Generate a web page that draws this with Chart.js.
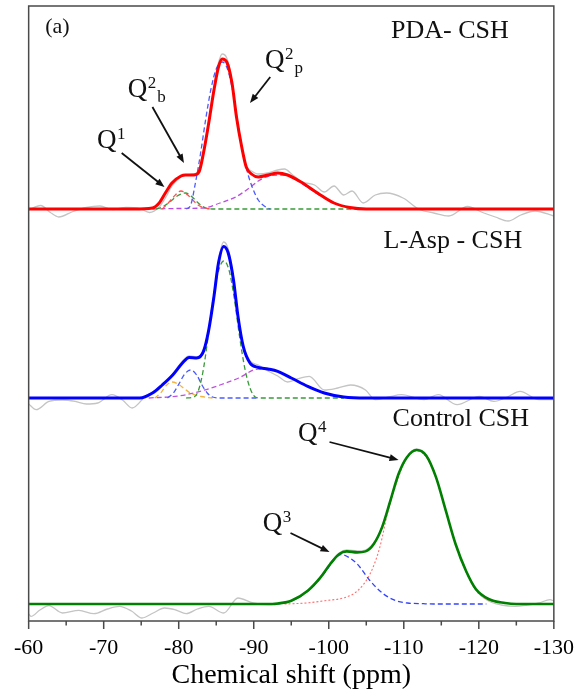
<!DOCTYPE html>
<html>
<head>
<meta charset="utf-8">
<script src="https://cdn.jsdelivr.net/npm/chart.js@4.4.0/dist/chart.umd.min.js"></script>
<style>
  html, body { margin: 0; padding: 0; background: #fff; }
  #wrap { width: 588px; height: 700px; position: relative; }
</style>
</head>
<body>
<div id="wrap"><canvas id="nmr"></canvas></div>
<script>
// x axis: chemical shift (ppm)
const shiftTicks = [-60, -70, -80, -90, -100, -110, -120, -130];
const minorTicks = [-65, -75, -85, -95, -105, -115, -125];

// PDA- CSH : [shift, intensity]
const pdaFit = [[-60,0],[-74,0],[-76.5,1],[-77.4,6],[-78.3,17],[-79.1,26],[-80.3,33],[-80.9,34],[-82.0,34],[-82.7,37],[-83.3,56],[-84.0,86],[-84.7,119],[-85.3,142],[-85.8,150],[-86.4,147],[-87.1,126],[-87.7,92],[-88.4,62],[-89.0,42],[-89.7,35],[-90.6,32],[-91.9,34],[-93.2,36],[-94.5,34],[-96.3,27],[-98.5,16],[-100.7,6],[-102.8,1.5],[-105,0],[-130,0]];
const pdaQ2p = [[-81.0,0],[-81.6,4],[-82.2,25],[-82.9,55],[-83.6,90],[-84.3,120],[-85.0,140],[-85.8,147],[-86.5,140],[-87.2,118],[-87.9,85],[-88.6,55],[-89.3,33],[-89.9,20],[-90.6,9],[-91.4,3],[-92.2,0]];
const pdaQ1 = [[-77.8,0],[-78.5,5],[-79.3,12],[-80.3,18],[-81.2,14],[-82.0,8],[-82.8,3],[-83.8,0.5],[-84.5,0]];
const pdaQ2b = [[-77.0,0],[-77.8,2],[-78.8,7],[-79.8,13],[-80.9,16],[-81.8,12],[-82.6,6],[-83.6,1],[-84.5,0],[-105,0]];
const pdaQ2i = [[-76.5,0],[-80,0.5],[-83.3,1],[-85.5,6],[-87.6,12],[-89.4,21],[-90.6,28],[-92,33],[-93.5,34],[-95,32],[-96.3,26],[-98.5,15],[-100.7,6],[-102.8,1.5],[-105,0]];
const pdaExp = [[-60,-1],[-61.6,3.5],[-62.9,-3.5],[-64.0,-8],[-65.9,-2.5],[-67.7,1.5],[-69.5,3],[-71.2,-0.5],[-73.0,1.5],[-74.8,0.5],[-76.1,-3.5],[-77.4,2],[-78.3,12],[-79.1,23],[-80.3,32],[-80.9,34],[-82.0,35],[-82.7,39],[-83.3,58],[-84.0,88],[-84.7,122],[-85.3,146],[-85.8,155],[-86.4,151],[-87.1,128],[-87.7,92],[-88.4,62],[-89.0,43],[-89.7,38],[-90.6,35],[-91.9,36],[-93.2,39],[-94.1,40],[-95.2,34],[-96.5,27],[-98.1,24],[-99.4,17],[-100.7,23],[-102.0,14],[-103.1,18],[-104.6,6],[-106.2,14],[-107.7,16],[-109.9,11],[-112.1,-0.5],[-114.0,-4],[-116.0,-7],[-118.5,2.5],[-120.5,-3.5],[-122.2,-8],[-123.9,-12],[-125.6,-6],[-127.5,-2],[-130,-7]];

// L-Asp - CSH
const aspFit = [[-60,0],[-74.8,0],[-76.5,5],[-77.8,13],[-79.2,23],[-80.5,35],[-81.4,40.6],[-82.4,40],[-83.3,46.6],[-84.0,68],[-84.7,101.6],[-85.3,135],[-86.0,151.6],[-86.6,145],[-87.3,118],[-87.9,81.6],[-88.6,51.6],[-89.5,35],[-90.6,30.6],[-91.9,29],[-93.2,26.6],[-95.0,20],[-97.2,11.6],[-99.4,5],[-102.0,1],[-105,0],[-130,0]];
const aspQ2p = [[-81.0,0],[-81.8,0.5],[-82.5,5],[-83.2,25],[-83.9,60],[-84.6,100],[-85.3,127],[-86.0,137],[-86.7,128],[-87.4,100],[-88.1,62],[-88.8,30],[-89.5,10],[-90.2,1],[-91,0],[-102,0]];
const aspQ2b = [[-78.5,0],[-79.3,5],[-80.1,15],[-80.8,24],[-81.6,28],[-82.4,23],[-83.1,13],[-83.8,5],[-84.5,1],[-85.5,0],[-90.6,0]];
const aspQ1 = [[-76.8,0],[-77.6,5],[-78.4,13],[-79.1,16],[-79.9,14],[-80.8,9],[-81.8,4],[-83.0,1.5],[-84.5,0]];
const aspQ2i = [[-76,0],[-80,2],[-83,7],[-85.5,13],[-88,20],[-90.6,29],[-91.9,28.5],[-93.2,26.5],[-95,20],[-97.2,11.6],[-99.4,5],[-102,1],[-105,0]];
const aspExp = [[-60,-6],[-61.0,-11.7],[-62.7,-3.4],[-64.5,-2],[-66.2,-3.4],[-67.7,-6],[-69.2,-5],[-71.1,3.3],[-72.5,-2],[-73.8,-10],[-75.8,3.3],[-77,6],[-77.8,12],[-79.2,24],[-80.5,37],[-81.4,42],[-82.4,41],[-83.3,48],[-84.0,70],[-84.7,104],[-85.3,138],[-86.0,156],[-86.6,149],[-87.3,121],[-87.9,83],[-88.6,53],[-89.5,37],[-90.6,33],[-91.9,27],[-93.2,22],[-94.5,16],[-95.8,19],[-97.4,21.6],[-99.4,8],[-101.2,10],[-102.9,13],[-104.9,8],[-106.2,-1.7],[-108,1],[-109.7,3.3],[-112.7,-1.7],[-114.6,3.3],[-117.1,-6.7],[-120.1,1.6],[-122.0,-3.4],[-123.8,1],[-125.5,6.6],[-128.0,-1.7],[-130,-1.7]];

// Control CSH
const ctlFit = [[-60,0],[-92.5,0],[-93.2,0.5],[-95.0,3.3],[-97.2,13.3],[-98.9,26.7],[-100.2,40],[-101.4,50],[-102.4,52.6],[-103.8,51.6],[-104.9,52.6],[-106.0,60],[-107.1,76.6],[-108.2,103],[-109.3,130],[-110.4,146.6],[-111.7,154],[-113.0,148.3],[-114.3,126.6],[-115.6,93.3],[-116.9,60],[-118.3,33],[-119.6,15],[-121.3,5],[-123.5,1],[-125,0],[-130,0]];
const ctlQ3 = [[-93,0],[-95,3],[-97.2,13],[-98.9,26],[-100.2,39],[-101.0,47],[-101.6,49.5],[-102.7,46.5],[-103.8,40],[-105.5,23.3],[-107.3,10],[-109,3.3],[-110.5,1],[-112.6,0.3],[-114,0],[-121,0]];
const ctlQ4 = [[-94.1,0],[-97,1],[-99.5,3.3],[-102.2,6.6],[-103.8,13],[-105.5,30],[-106.8,56.6],[-107.9,93],[-109.3,127],[-110.4,146],[-111.7,153],[-113.0,147],[-114.3,126],[-115.6,93],[-116.9,59],[-118.3,32],[-119.6,14],[-121.3,4],[-123.5,0.5]];
const ctlExp = [[-60,-10],[-60.3,-12.4],[-61.5,-6],[-62.7,-1.7],[-64.5,-9],[-66.7,-6.4],[-68.7,-9.7],[-70.5,-5],[-72.1,-2.4],[-73.7,-7],[-75.1,-14],[-76.6,-9],[-78.1,-4],[-79.6,-6],[-81.0,-9.7],[-82.5,-5],[-84.0,-2.4],[-86.0,-9],[-87.9,6],[-89.9,1],[-91.9,-0.7],[-93.2,0.5],[-95.0,3.3],[-97.2,13.3],[-98.9,27],[-100.2,41],[-101.4,51],[-102.4,54],[-103.8,53],[-104.9,54],[-106.0,61],[-107.1,77],[-108.2,103],[-109.3,130],[-110.4,147],[-111.7,155],[-113.0,149],[-114.3,127],[-115.6,93],[-116.9,60],[-118.3,33],[-119.6,14],[-121.3,3],[-123.0,-1],[-124.9,-2.4],[-126.5,-1],[-128,1],[-129.5,4.3],[-130,3]];

// vertical stacking of the three spectra
const offPda = 395, offAsp = 206, offCtl = 0;

const SERIF = "'Liberation Serif', 'Times New Roman', serif";

function pts(pairs, off) {
    return pairs.map(p => ({ x: p[0], y: p[1] + off }));
}

function curve(pairs, off, color, width, dash, order) {
    return {
        data: pts(pairs, off),
        borderColor: color,
        borderWidth: width,
        borderDash: dash || [],
        pointRadius: 0,
        fill: false,
        cubicInterpolationMode: "monotone",
        order: order,
    };
}

const GREY = "#c4c4c4";
const datasets = [
    curve(pdaFit, offPda, "#ff0000", 3, null, 0),
    curve(aspFit, offAsp, "#0000ff", 3, null, 0),
    curve(ctlFit, offCtl, "#008000", 2.6, null, 0),

    curve(pdaQ2p, offPda, "#4a5cff", 1.3, [5, 3], 1),
    curve(pdaQ1, offPda, "#ff5050", 1.3, [5, 3], 1),
    curve(pdaQ2b, offPda, "#3a9a3a", 1.3, [5, 3], 1),
    curve(pdaQ2i, offPda, "#b94de0", 1.3, [5, 3], 1),

    curve(aspQ2p, offAsp, "#3a9a3a", 1.3, [5, 3], 1),
    curve(aspQ2b, offAsp, "#4a5cff", 1.3, [5, 3], 1),
    curve(aspQ1, offAsp, "#f3b340", 1.3, [5, 3], 1),
    curve(aspQ2i, offAsp, "#c050e0", 1.3, [5, 3], 1),

    curve(ctlQ3, offCtl, "#3344ff", 1.3, [5, 3], 1),
    curve(ctlQ4, offCtl, "#ff7070", 1.1, [2, 2], 1),

    curve(pdaExp, offPda, GREY, 1.3, null, 2),
    curve(aspExp, offAsp, GREY, 1.3, null, 2),
    curve(ctlExp, offCtl, GREY, 1.3, null, 2),
];

// text labels [text, shift, y] and arrows [fromShift, fromY, toShift, toY]
const titles = [["(a)", -62.2, 571], ["PDA- CSH", -108.3, 566], ["L-Asp - CSH", -107.3, 356], ["Control CSH", -108.5, 178]];
const qLabels = [["1", "", -69.1, 456], ["2", "b", -73.2, 507], ["2", "p", -91.5, 536], ["3", "", -91.2, 73], ["4", "", -95.9, 163]];
const arrows = [[-72.4, 451, -78.1, 417], [-76.5, 497, -80.7, 441], [-92.2, 527, -89.5, 501], [-94.9, 71, -100.1, 52], [-100.1, 162, -109.3, 144]];

const decor = {
    id: "decor",
    afterDraw(chart) {
        const ctx = chart.ctx, xs = chart.scales.x, ys = chart.scales.y, a = chart.chartArea;
        ctx.save();
        // frame
        ctx.strokeStyle = "#4a4a4a";
        ctx.lineWidth = 1.5;
        ctx.strokeRect(a.left, a.top, a.right - a.left, a.bottom - a.top);
        // ticks below the axis
        ctx.beginPath();
        shiftTicks.forEach(v => { const x = xs.getPixelForValue(v); ctx.moveTo(x, a.bottom); ctx.lineTo(x, a.bottom + 8); });
        minorTicks.forEach(v => { const x = xs.getPixelForValue(v); ctx.moveTo(x, a.bottom); ctx.lineTo(x, a.bottom + 4.5); });
        ctx.stroke();

        ctx.fillStyle = "#111";
        ctx.textBaseline = "alphabetic";
        ctx.textAlign = "left";
        titles.forEach(t => {
            ctx.font = (t[0] === "(a)" ? "22px " : "26px ") + SERIF;
            ctx.fillText(t[0], xs.getPixelForValue(t[1]), ys.getPixelForValue(t[2]));
        });

        qLabels.forEach(q => {
            const x = xs.getPixelForValue(q[2]), y = ys.getPixelForValue(q[3]);
            ctx.font = "27px " + SERIF;
            ctx.fillText("Q", x, y);
            const w = ctx.measureText("Q").width;
            ctx.font = "17px " + SERIF;
            ctx.fillText(q[0], x + w + 0.5, y - 9);
            const ws = ctx.measureText(q[0]).width;
            if (q[1]) ctx.fillText(q[1], x + w + ws + 1.5, y + 5);
        });

        ctx.strokeStyle = "#111";
        ctx.lineWidth = 1.8;
        arrows.forEach(r => {
            const x0 = xs.getPixelForValue(r[0]), y0 = ys.getPixelForValue(r[1]);
            const x1 = xs.getPixelForValue(r[2]), y1 = ys.getPixelForValue(r[3]);
            const ang = Math.atan2(y1 - y0, x1 - x0);
            ctx.beginPath();
            ctx.moveTo(x0, y0);
            ctx.lineTo(x1 - 6 * Math.cos(ang), y1 - 6 * Math.sin(ang));
            ctx.stroke();
            ctx.beginPath();
            ctx.moveTo(x1, y1);
            ctx.lineTo(x1 - 9 * Math.cos(ang) + 3.5 * Math.sin(ang), y1 - 9 * Math.sin(ang) - 3.5 * Math.cos(ang));
            ctx.lineTo(x1 - 9 * Math.cos(ang) - 3.5 * Math.sin(ang), y1 - 9 * Math.sin(ang) + 3.5 * Math.cos(ang));
            ctx.closePath();
            ctx.fill();
        });
        ctx.restore();
    }
};

new Chart(document.getElementById("nmr"), {
    type: "line",
    data: { datasets: datasets },
    options: {
        responsive: true,
        maintainAspectRatio: false,
        animation: false,
        layout: { padding: { left: 28, right: 29, top: 6, bottom: 0 } },
        scales: {
            x: {
                type: "linear",
                min: -130,
                max: -60,
                reverse: true,
                grid: { display: false, drawTicks: false },
                border: { display: false },
                afterBuildTicks: scale => { scale.ticks = shiftTicks.map(v => ({ value: v })); },
                afterFit: scale => { scale.height = 79; },
                ticks: {
                    color: "#000",
                    padding: 14,
                    maxRotation: 0,
                    autoSkip: false,
                    font: { family: SERIF, size: 22 },
                },
                title: {
                    display: true,
                    text: "Chemical shift (ppm)",
                    color: "#000",
                    font: { family: SERIF, size: 28 },
                    padding: { top: 0, bottom: 8 },
                },
            },
            y: {
                display: false,
                min: -17,
                max: 598,
            }
        },
        plugins: {
            legend: { display: false },
            tooltip: { enabled: false }
        }
    },
    plugins: [decor]
});
</script>
</body>
</html>
